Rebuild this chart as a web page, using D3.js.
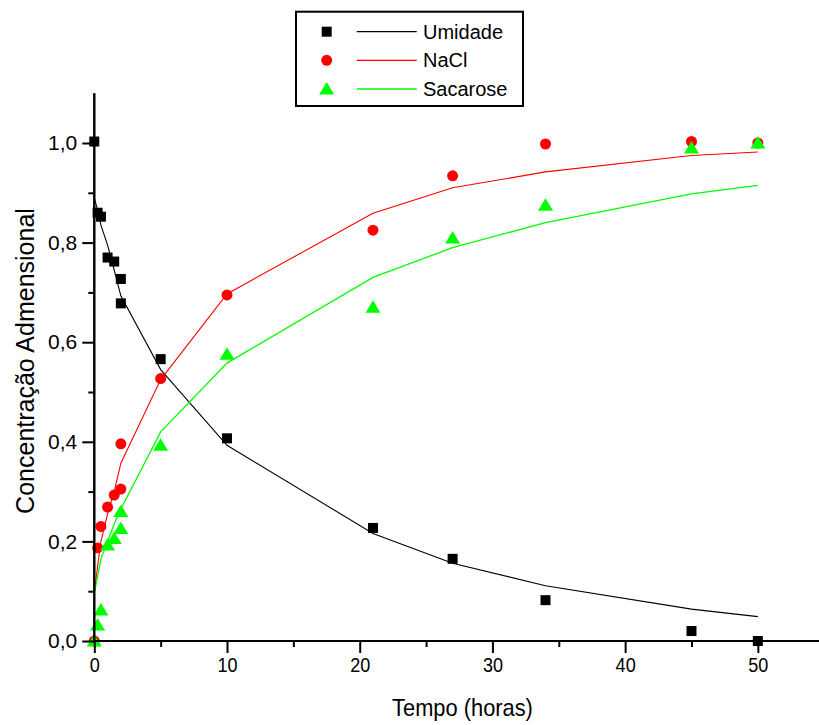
<!DOCTYPE html>
<html>
<head>
<meta charset="utf-8">
<script src="https://cdn.jsdelivr.net/npm/d3@7"></script>
<style>
  html, body { margin: 0; padding: 0; background: #fff; }
  svg { display: block; font-family: Arial, "Liberation Sans", sans-serif; }
</style>
</head>
<body>
<svg id="chart" width="819" height="725"></svg>
<script>
// Measured samples (time in hours)
const times = [0, 0.25, 0.5, 1, 1.5, 2, 2, 5, 10, 21, 27, 34, 45, 50];
const umidade = [1.003, 0.86, 0.852, 0.77, 0.762, 0.727, 0.678, 0.566, 0.407, 0.227, 0.165, 0.082, 0.02, 0.0];
const nacl = [0.0, 0.187, 0.23, 0.269, 0.293, 0.305, 0.396, 0.527, 0.695, 0.825, 0.934, 0.998, 1.003, 1.0];
const sacarose = [0.0, 0.032, 0.062, 0.193, 0.206, 0.226, 0.26, 0.393, 0.576, 0.67, 0.809, 0.875, 0.99, 1.0];

// Model curves evaluated at the sampling times
const fitTimes = [0, 0.25, 0.5, 1, 1.5, 2, 5, 10, 21, 27, 34, 45, 50];
const umidadeFit = [0.89, 0.865, 0.835, 0.795, 0.745, 0.693, 0.545, 0.393, 0.216, 0.156, 0.111, 0.064, 0.049];
const naclFit = [0.096, 0.15, 0.2, 0.255, 0.3, 0.357, 0.525, 0.697, 0.859, 0.91, 0.942, 0.975, 0.982];
const sacaroseFit = [0.096, 0.13, 0.165, 0.2, 0.235, 0.265, 0.42, 0.558, 0.73, 0.79, 0.84, 0.898, 0.915];

const seriesNames = ["Umidade", "NaCl", "Sacarose"];
const xTicks = [0, 10, 20, 30, 40, 50];
const xMinorTicks = [5, 15, 25, 35, 45];
const yTicks = [0, 0.2, 0.4, 0.6, 0.8, 1.0];
const yMinorTicks = [0.1, 0.3, 0.5, 0.7, 0.9];

const series = [
  { name: seriesNames[0], values: umidade, fit: umidadeFit, color: "#000000", symbol: "square" },
  { name: seriesNames[1], values: nacl, fit: naclFit, color: "#ff0000", symbol: "circle" },
  { name: seriesNames[2], values: sacarose, fit: sacaroseFit, color: "#00ff00", symbol: "triangle" }
];

const svg = d3.select("#chart");
svg.append("rect").attr("width", 819).attr("height", 725).attr("fill", "#fff");

const x = d3.scaleLinear().domain([0, 55]).range([94.3, 824.2]);
const y = d3.scaleLinear().domain([0, 1.1]).range([641, 93.2]);

const fmt = d => d3.format(".1f")(d).replace(".", ",");

// Symbol generators
const symPath = {
  square: d3.symbol().type(d3.symbolSquare).size(100)(),
  circle: d3.symbol().type(d3.symbolCircle).size(95)(),
  triangle: "M0,-7L7.5,5.5L-7.5,5.5Z"
};

const line = d3.line().x(d => x(d[0])).y(d => y(d[1]));

// Curves and markers, one series at a time
series.forEach(s => {
  svg.append("path")
    .datum(fitTimes.map((t, i) => [t, s.fit[i]]))
    .attr("d", line)
    .attr("fill", "none")
    .attr("stroke", s.color)
    .attr("stroke-width", s.symbol === "triangle" ? 1.3 : 1.1);
  svg.append("g").selectAll("path")
    .data(times.map((t, i) => [t, s.values[i]]))
    .join("path")
    .attr("d", symPath[s.symbol])
    .attr("transform", d => `translate(${x(d[0])},${y(d[1])})`)
    .attr("fill", s.color);
});

// Axes
const xAxis = svg.append("g").attr("transform", "translate(0,641)");
xAxis.call(d3.axisBottom(x).tickValues(xTicks).tickSize(12).tickPadding(4).tickFormat(d3.format("d")));
xAxis.append("g").call(d3.axisBottom(x).tickValues(xMinorTicks).tickSize(6).tickFormat(""));
xAxis.selectAll(".domain").attr("stroke", "#000").attr("stroke-width", 2).attr("d", "M94.3,0H830");
xAxis.selectAll("line").attr("stroke", "#000").attr("stroke-width", 2);
xAxis.selectAll(".tick text")
  .attr("font-size", 21)
  .attr("fill", "#000")
  .attr("transform", "scale(0.86,1)")
  .attr("x", function() { return 0; });

const yAxis = svg.append("g").attr("transform", "translate(94.3,0)");
yAxis.call(d3.axisLeft(y).tickValues(yTicks).tickSize(12).tickPadding(5).tickFormat(fmt));
yAxis.append("g").call(d3.axisLeft(y).tickValues(yMinorTicks).tickSize(6).tickFormat(""));
yAxis.selectAll(".domain").attr("stroke", "#000").attr("stroke-width", 2).attr("d", "M0,641V93.2");
yAxis.selectAll("line").attr("stroke", "#000").attr("stroke-width", 2);
yAxis.selectAll(".tick text").attr("font-size", 21).attr("fill", "#000");

// Axis titles
svg.append("text")
  .attr("transform", "translate(462.5,716) scale(0.91,1)")
  .attr("text-anchor", "middle")
  .attr("font-size", 24)
  .text("Tempo (horas)");

svg.append("text")
  .attr("transform", "translate(34,361) rotate(-90)")
  .attr("text-anchor", "middle")
  .attr("font-size", 25)
  .text("Concentração Admensional");

// Legend
const legend = svg.append("g");
legend.append("rect")
  .attr("x", 296).attr("y", 11.7).attr("width", 227).attr("height", 94.3)
  .attr("fill", "#fff").attr("stroke", "#000").attr("stroke-width", 2);
const rowY = [31.7, 60.3, 89];
series.forEach((s, i) => {
  const g = legend.append("g").attr("transform", `translate(0,${rowY[i]})`);
  g.append("path").attr("d", symPath[s.symbol]).attr("transform", "translate(326.7,0)").attr("fill", s.color);
  g.append("line").attr("x1", 356.7).attr("x2", 416.7).attr("y1", 0).attr("y2", 0)
    .attr("stroke", s.color).attr("stroke-width", s.symbol === "triangle" ? 1.5 : 1.2);
  g.append("text").attr("x", 423).attr("y", 7).attr("font-size", 20).text(s.name);
});
</script>
</body>
</html>
